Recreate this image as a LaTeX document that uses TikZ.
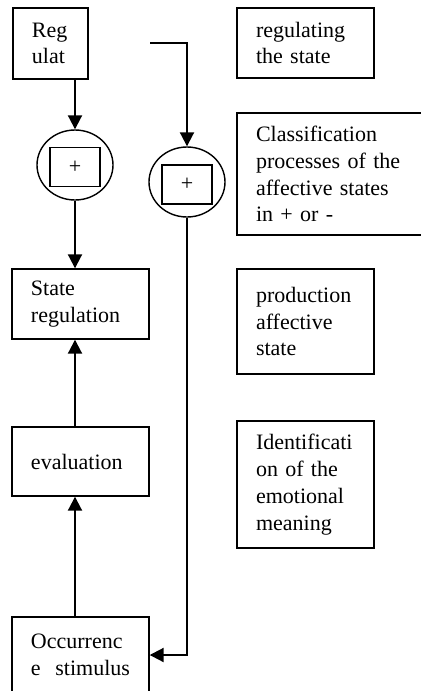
\documentclass[tikz,border=0pt]{standalone}
\usepackage{fontspec}
\setmainfont{Liberation Serif}
\usetikzlibrary{arrows.meta, shapes.geometric, positioning}

\begin{document}
\begin{tikzpicture}[x=0.5pt, y=-0.5pt,
    font=\fontsize{11pt}{13.4pt}\selectfont,
    blk/.style={draw, line width=0.7pt, inner xsep=9.5pt, inner ysep=0pt, align=left},
    sumc/.style={draw, ellipse, line width=0.7pt, minimum width=38pt, minimum height=35pt, inner sep=0pt},
    sumbox/.style={draw, line width=0.9pt, minimum width=25pt, minimum height=19.5pt, inner sep=0pt},
    flow/.style={line width=1pt, -{Triangle[length=7pt, width=7pt]}}]

    \useasboundingbox (0,0) rectangle (420,691);

    % Left column
    \node[blk, minimum width=37.5pt, minimum height=35.5pt, text width=18.5pt] (reg) at (50.5,43.5) {Reg\\ulat};
    \node[sumc] (sum1) at (75,165) {};
    \node[sumbox] (sq1) at (75,167) {+};
    \node[blk, minimum width=68.5pt, minimum height=35pt, text width=49.5pt] (sreg) at (80.5,304) {State\\regulation};
    \node[blk, minimum width=68.5pt, minimum height=34.5pt, text width=49.5pt] (eval) at (80.5,461.5) {evaluation};
    \node[blk, minimum width=68.5pt, minimum height=38pt, text width=49.5pt] (occ) at (80.5,655) {Occurrenc\\\mbox{e\ \ stimulus}};

    % Middle (loop back)
    \coordinate (start) at (150,43);
    \node[sumc] (sum2) at (187,182) {};
    \node[sumbox] (sq2) at (187,184.5) {+};

    % Right column
    \node[blk, minimum width=68.5pt, minimum height=35pt, text width=49.5pt] (rstate) at (305.5,43) {regulating\\the state};
    \node[blk, minimum width=94pt, minimum height=61pt, text width=75pt] (cls) at (331,174) {Classification\\processes of the\\affective states\\in + or -};
    \node[blk, minimum width=68.5pt, minimum height=52.5pt, text width=49.5pt] (prod) at (305.5,321.5) {production\\affective\\state};
    \node[blk, minimum width=68.5pt, minimum height=63.5pt, text width=49.5pt] (ident) at (305.5,484.5) {Identificati\\on of the\\emotional\\meaning};

    % Connectors
    \draw[flow] (sum1.north |- reg.south) -- (sum1.north);
    \draw[flow] (sum1.south) -- (sum1.south |- sreg.north);
    \draw[flow] (sum1 |- eval.north) -- (sum1 |- sreg.south);
    \draw[flow] (sum1 |- occ.north) -- (sum1 |- eval.south);
    \draw[flow] (start) -| (sum2.north);
    \draw[flow] (sum2.south) |- (occ.east);

\end{tikzpicture}
\end{document}
